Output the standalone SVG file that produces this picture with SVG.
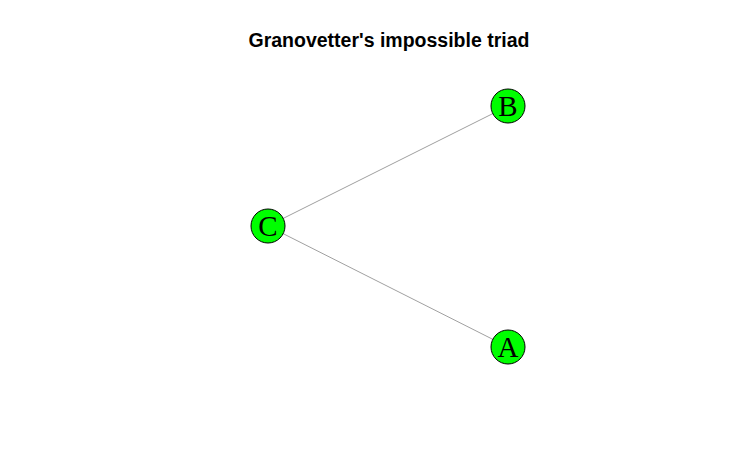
<svg xmlns="http://www.w3.org/2000/svg" width="740" height="473" viewBox="0 0 740 473">
<style>
.node{fill:#00ff00;stroke:#000;stroke-width:1}
.lbl{font-family:"Liberation Serif",serif;font-size:29px;fill:#000;text-anchor:middle}
.edge{stroke:#a0a0a0;stroke-width:1;fill:none}
.title{font-family:"Liberation Sans",Arial,sans-serif;font-size:19.5px;font-weight:bold;text-anchor:middle}
</style>
<rect width="740" height="473" fill="#fff"/>
<text class="title" x="389" y="47">Granovetter's impossible triad</text>
<g id="connectors">
<line class="edge" x1="268" y1="226" x2="508" y2="106"/>
<line class="edge" x1="268" y1="226" x2="508" y2="347"/>
</g>
<g id="node-C"><circle class="node" cx="268" cy="226" r="17"/><text class="lbl" x="268" y="236">C</text></g>
<g id="node-B"><circle class="node" cx="508" cy="106" r="17"/><text class="lbl" x="508" y="116">B</text></g>
<g id="node-A"><circle class="node" cx="508" cy="347" r="17"/><text class="lbl" x="508" y="357">A</text></g>
</svg>
